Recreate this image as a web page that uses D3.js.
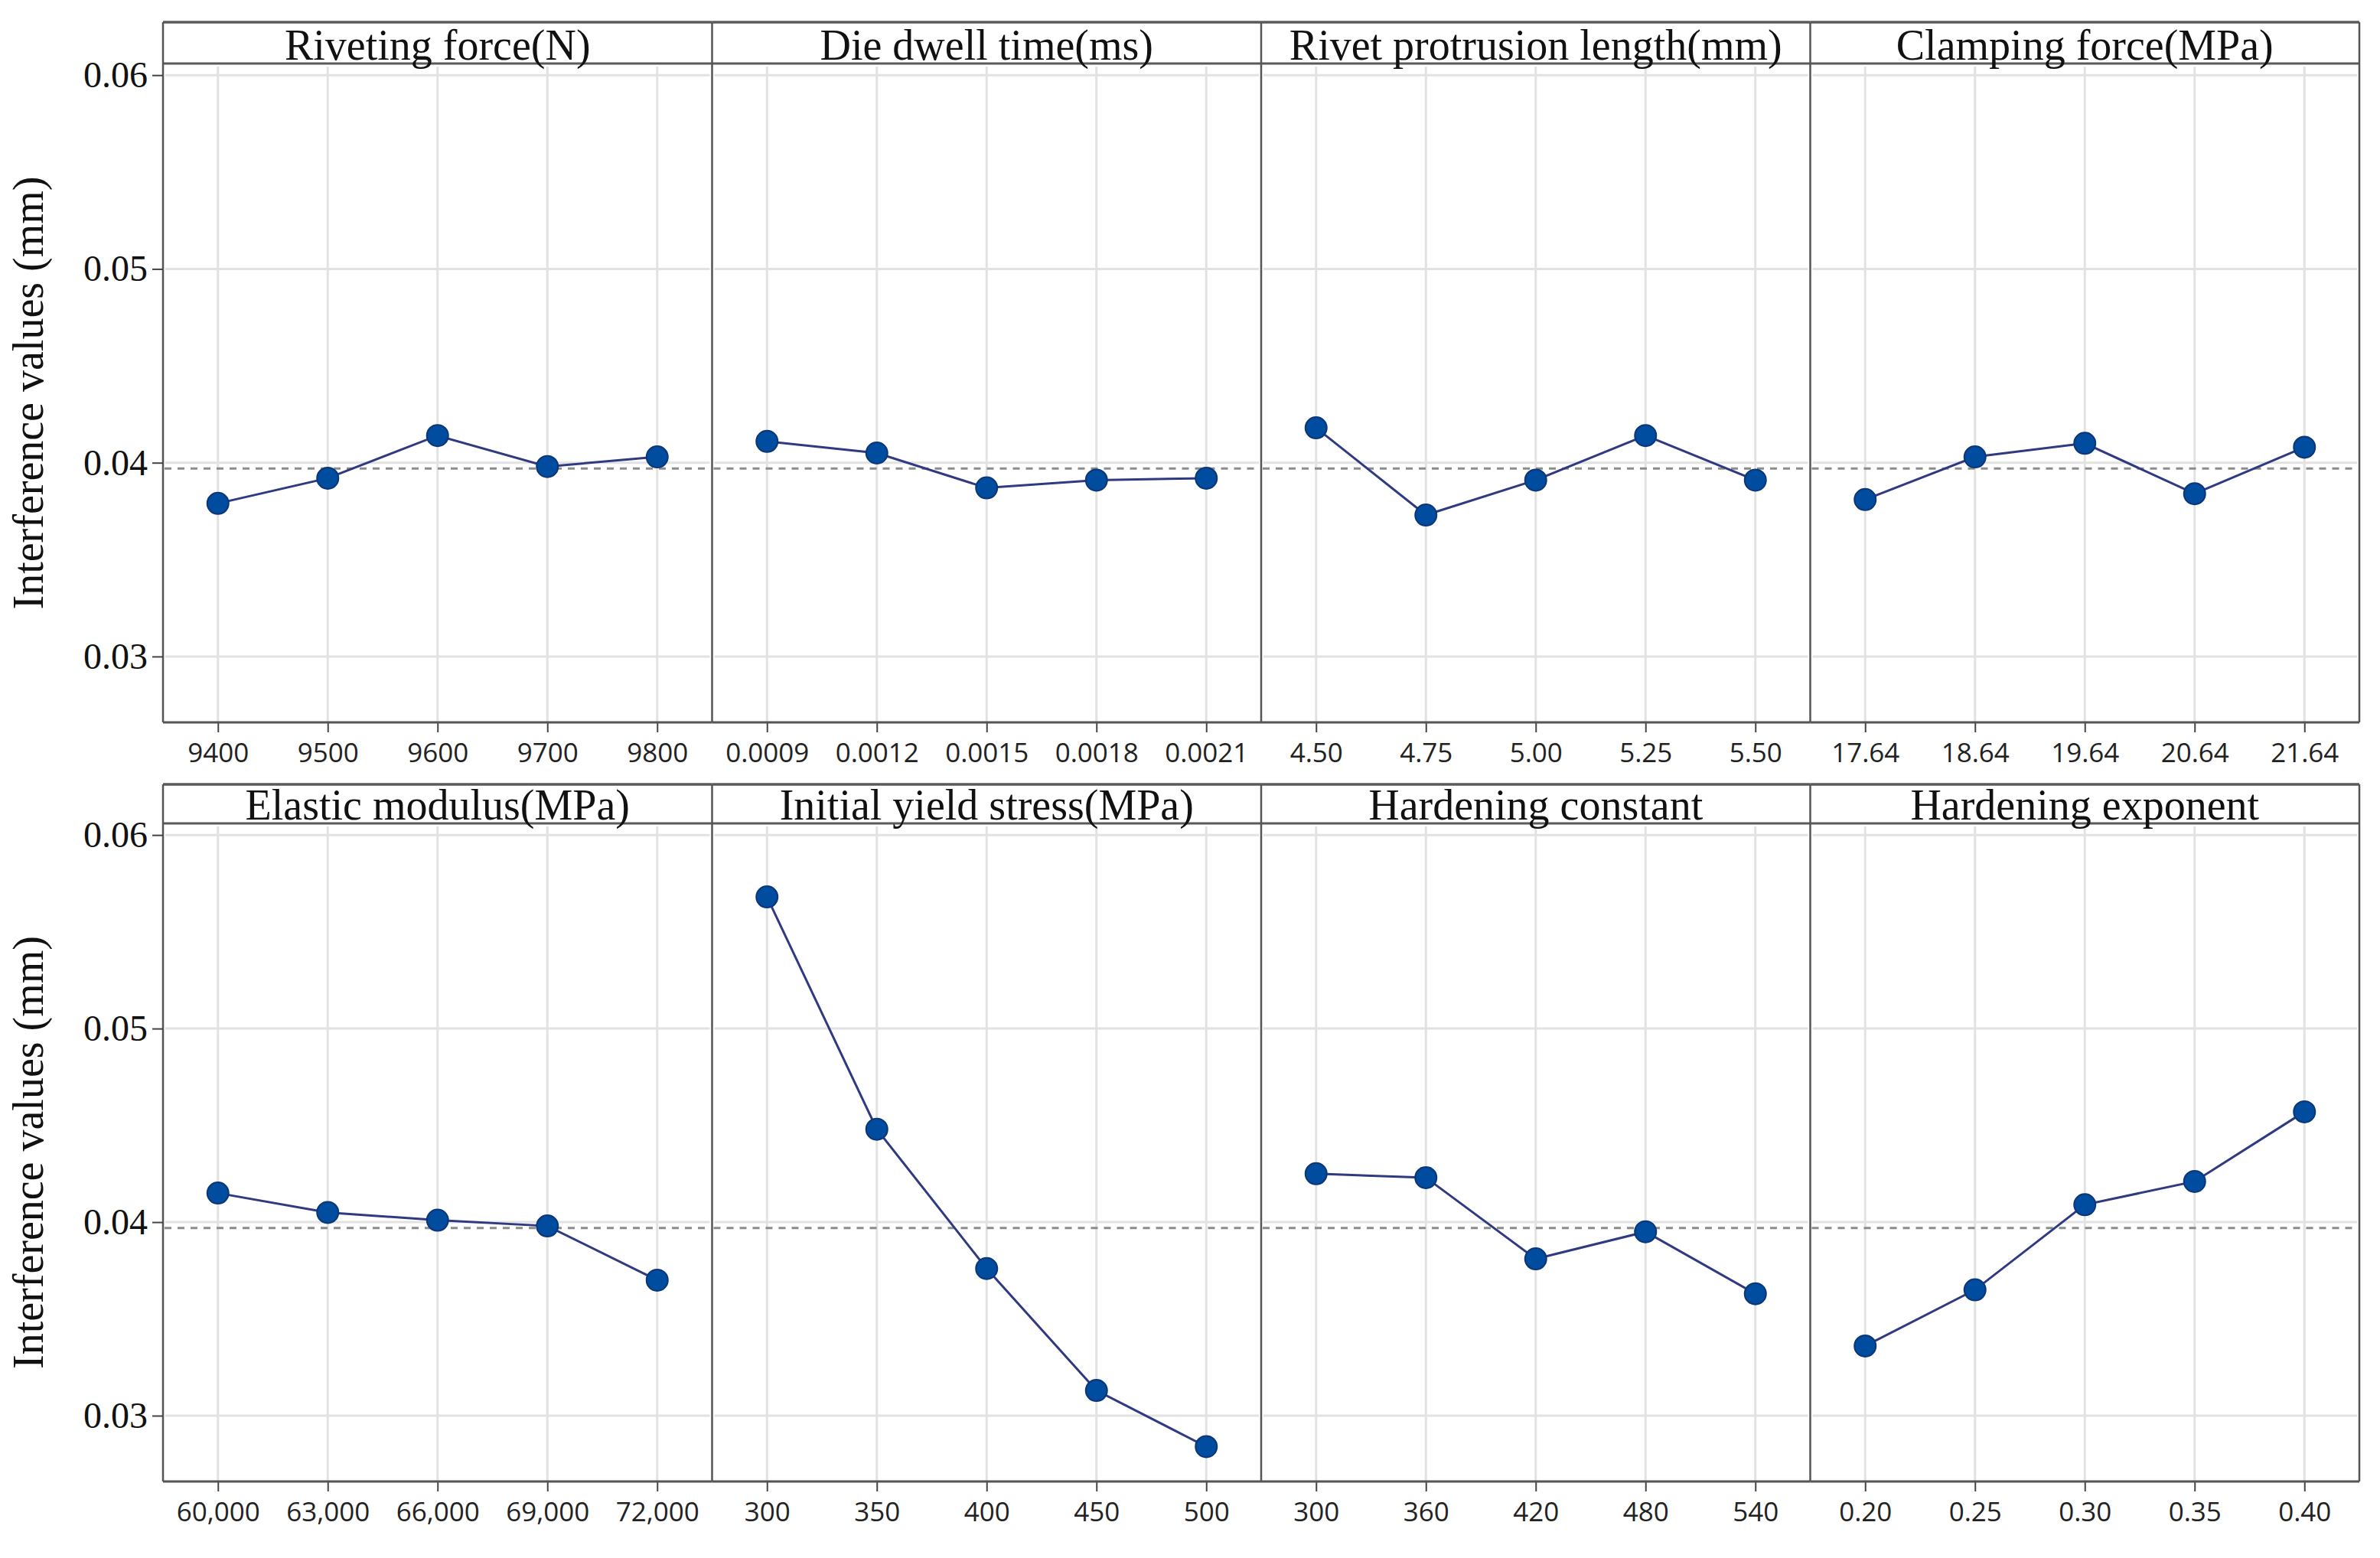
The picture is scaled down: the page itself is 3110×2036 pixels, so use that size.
<!DOCTYPE html>
<html>
<head>
<meta charset="utf-8">
<script src="https://cdn.jsdelivr.net/npm/d3@7"></script>
<style>
  body { margin: 0; background: #fff; }
  svg { display: block; }
</style>
</head>
<body>
<div id="main_effects"></div>
<script>
// factor names, one panel per factor
const factors = [
  "Riveting force(N)", "Die dwell time(ms)", "Rivet protrusion length(mm)", "Clamping force(MPa)",
  "Elastic modulus(MPa)", "Initial yield stress(MPa)", "Hardening constant", "Hardening exponent"
];

// level labels on the x axis of each panel
const levels = [
  ["9400", "9500", "9600", "9700", "9800"],
  ["0.0009", "0.0012", "0.0015", "0.0018", "0.0021"],
  ["4.50", "4.75", "5.00", "5.25", "5.50"],
  ["17.64", "18.64", "19.64", "20.64", "21.64"],
  ["60,000", "63,000", "66,000", "69,000", "72,000"],
  ["300", "350", "400", "450", "500"],
  ["300", "360", "420", "480", "540"],
  ["0.20", "0.25", "0.30", "0.35", "0.40"]
];

// mean interference value (mm) at each level
const means = [
  [0.0379, 0.0392, 0.0414, 0.0398, 0.0403],
  [0.0411, 0.0405, 0.0387, 0.0391, 0.0392],
  [0.0418, 0.0373, 0.0391, 0.0414, 0.0391],
  [0.0381, 0.0403, 0.0410, 0.0384, 0.0408],
  [0.0415, 0.0405, 0.0401, 0.0398, 0.0370],
  [0.0568, 0.0448, 0.0376, 0.0313, 0.0284],
  [0.0425, 0.0423, 0.0381, 0.0395, 0.0363],
  [0.0336, 0.0365, 0.0409, 0.0421, 0.0457]
];

const grandMean = 0.0397;
const yTicks = [0.03, 0.04, 0.05, 0.06];
const yTitle = "Interference values (mm)";

const width = 3110, height = 2036;
const left = 213, right = 3083;
const panelW = (right - left) / 4;
// strip top, plot top, plot bottom for each row
const rows = [
  {stripTop: 29, top: 83, bottom: 944},
  {stripTop: 1025, top: 1076, bottom: 1936}
];

const svg = d3.select("#main_effects")
  .append("svg")
    .attr("width", width)
    .attr("height", height);

const serif = "'Liberation Serif', 'Times New Roman', serif";
const sans = "'Open Sans', 'Noto Sans', sans-serif";

rows.forEach((row, r) => {
  const y = d3.scaleLinear()
    .domain([0.0266, 0.0606])
    .range([row.bottom, row.top]);

  for (let c = 0; c < 4; c++) {
    const k = r * 4 + c;
    const x0 = left + c * panelW, x1 = x0 + panelW;
    const x = d3.scalePoint()
      .domain(levels[k])
      .range([x0, x1])
      .padding(0.5);

    const g = svg.append("g");

    // grid
    g.selectAll(".hgrid")
      .data(yTicks)
      .join("line")
      .attr("x1", x0 + 3).attr("x2", x1 - 3)
      .attr("y1", d => y(d)).attr("y2", d => y(d))
      .attr("stroke", "#e2e2e2")
      .attr("stroke-width", 3);
    g.selectAll(".vgrid")
      .data(levels[k])
      .join("line")
      .attr("x1", d => x(d)).attr("x2", d => x(d))
      .attr("y1", row.top + 4).attr("y2", row.bottom)
      .attr("stroke", "#e2e2e2")
      .attr("stroke-width", 3);

    // overall mean reference line
    g.append("line")
      .attr("x1", x0 + 2).attr("x2", x1 - 2)
      .attr("y1", y(grandMean)).attr("y2", y(grandMean))
      .attr("stroke", "#8c8c8c")
      .attr("stroke-width", 3)
      .attr("stroke-dasharray", "9,8");

    // x axis
    const xAxis = g.append("g")
      .attr("transform", `translate(0,${row.bottom})`)
      .call(d3.axisBottom(x).tickSize(13).tickPadding(14));
    xAxis.select(".domain").remove();
    xAxis.selectAll("line").attr("stroke", "#444").attr("stroke-width", 2);
    xAxis.selectAll("text")
      .attr("fill", "#222")
      .style("font-family", sans)
      .style("font-size", "35px");

    // means line + markers
    const pts = levels[k].map((l, i) => ({level: l, value: means[k][i]}));
    g.append("path")
      .datum(pts)
      .attr("fill", "none")
      .attr("stroke", "#2f3a80")
      .attr("stroke-width", 3)
      .attr("d", d3.line().x(d => x(d.level)).y(d => y(d.value)));
    g.selectAll("circle")
      .data(pts)
      .join("circle")
      .attr("cx", d => x(d.level))
      .attr("cy", d => y(d.value))
      .attr("r", 14)
      .attr("fill", "#004c9e")
      .attr("stroke", "#0d3677")
      .attr("stroke-width", 2);

    // strip
    g.append("line")
      .attr("x1", x0).attr("x2", x1)
      .attr("y1", row.stripTop).attr("y2", row.stripTop)
      .attr("stroke", "#5a5a5a").attr("stroke-width", 3.5);
    g.append("line")
      .attr("x1", x0).attr("x2", x1)
      .attr("y1", row.top).attr("y2", row.top)
      .attr("stroke", "#5a5a5a").attr("stroke-width", 3);
    g.append("text")
      .attr("x", (x0 + x1) / 2)
      .attr("y", row.top - 5)
      .attr("text-anchor", "middle")
      .attr("fill", "#111")
      .style("font-family", serif)
      .style("font-size", "56px")
      .text(factors[k]);

    // bottom line and panel separator
    g.append("line")
      .attr("x1", x0).attr("x2", x1)
      .attr("y1", row.bottom).attr("y2", row.bottom)
      .attr("stroke", "#555").attr("stroke-width", 3);
    g.append("line")
      .attr("x1", x0).attr("x2", x0)
      .attr("y1", row.stripTop).attr("y2", row.bottom)
      .attr("stroke", "#555").attr("stroke-width", 2.5);
    if (c === 3) {
      g.append("line")
        .attr("x1", x1).attr("x2", x1)
        .attr("y1", row.stripTop).attr("y2", row.bottom)
        .attr("stroke", "#555").attr("stroke-width", 2.5);
    }
  }

  // y axis on the first panel of each row
  const yAxis = svg.append("g")
    .attr("transform", `translate(${left},0)`)
    .call(d3.axisLeft(y).tickValues(yTicks).tickFormat(d3.format(".2f")).tickSize(14).tickPadding(6));
  yAxis.select(".domain").remove();
  yAxis.selectAll("line").attr("stroke", "#444").attr("stroke-width", 2);
  yAxis.selectAll("text")
    .attr("fill", "#111")
    .style("font-family", serif)
    .style("font-size", "48px");

  svg.append("text")
    .attr("transform", `translate(56,${(row.top + row.bottom) / 2}) rotate(-90)`)
    .attr("text-anchor", "middle")
    .attr("fill", "#111")
    .style("font-family", serif)
    .style("font-size", "56px")
    .text(yTitle);
});
</script>
</body>
</html>
